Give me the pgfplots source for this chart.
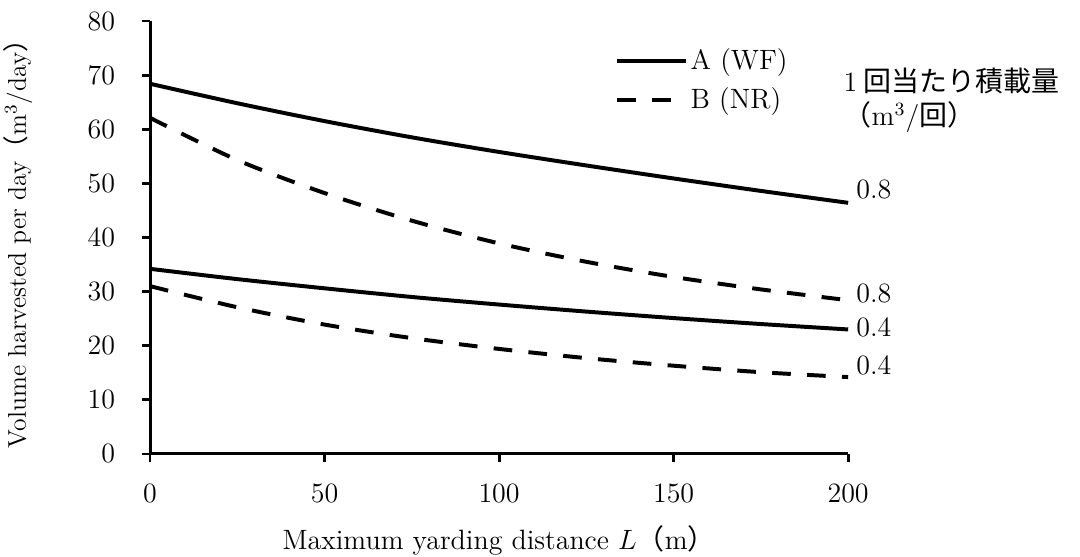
\documentclass[border=0pt]{standalone}
\usepackage{fontspec}
\usepackage{pgfplots}
\pgfplotsset{compat=1.18}
\newfontfamily\cjk{Noto Sans CJK JP}
\pgfplotstableread{
x A08 B08 A04 B04
0   68.4 62.1 34.2 31.0
25  64.8 54.3 32.3 27.1
50  61.5 48.2 30.6 23.9
75  58.5 43.1 29.0 21.4
100 55.8 38.9 27.6 19.4
125 53.3 35.5 26.3 17.7
150 50.9 32.7 25.1 16.3
175 48.6 30.4 24.0 15.1
200 46.4 28.4 23.0 14.2
}\datatable
\begin{document}
\begin{tikzpicture}
\path[use as bounding box] (0,0) rectangle (463.5pt,239pt);
\begin{axis}[
  at={(64.4pt,44.2pt)}, anchor=south west,
  scale only axis, width=299.6pt, height=185.8pt,
  xmin=0, xmax=200, ymin=0, ymax=80,
  axis lines*=left,
  xtick={0,50,...,200}, ytick={0,10,...,80},
  tick align=outside, major tick length=3.5pt,
  tick style={line width=1.2pt, black},
  axis line style={line width=1.3pt},
  ticklabel style={font=\fontsize{12.5}{14}\selectfont},
  yticklabel style={xshift=-8pt},
  xticklabel style={yshift=-6pt},
  xlabel={Maximum yarding distance $L${\cjk （}m{\cjk ）}},
  ylabel={Volume harvested per day{\cjk （}m\textsuperscript{3}/day{\cjk ）}},
  xlabel style={font=\fontsize{12}{14}\selectfont, at={(axis description cs:0.5,-0.2)}, anchor=center},
  ylabel style={font=\fontsize{11}{13}\selectfont, at={(axis description cs:-0.189,0.5)}, anchor=center},
  clip=false,
  legend cell align=left,
  legend style={at={(rel axis cs:0.666,0.942)}, anchor=north west, draw=none, fill=none,
    inner sep=0pt, row sep=4pt, font=\fontsize{12}{14}\selectfont,
    nodes={inner sep=1pt}},
  legend image code/.code={\draw[#1] (0pt,0pt) -- (29.6pt,0pt);},
]
\addplot[black, line width=1.7pt, smooth] table[x=x,y=A08] {\datatable};
\addlegendentry{A (WF)}
\addplot[black, line width=1.7pt, smooth, dash pattern=on 8pt off 7pt] table[x=x,y=B08] {\datatable};
\addlegendentry{B (NR)}
\addplot[black, line width=1.7pt, smooth, forget plot] table[x=x,y=A04] {\datatable};
\addplot[black, line width=1.7pt, smooth, dash pattern=on 8pt off 7pt, forget plot] table[x=x,y=B04] {\datatable};
\node[anchor=west, font=\fontsize{12}{14}\selectfont] at (axis cs:200,48.8) {0.8};
\node[anchor=west, font=\fontsize{12}{14}\selectfont] at (axis cs:200,29.6) {0.8};
\node[anchor=west, font=\fontsize{12}{14}\selectfont] at (axis cs:200,23.3) {0.4};
\node[anchor=west, font=\fontsize{12}{14}\selectfont] at (axis cs:200,16.3) {0.4};
\node[anchor=base west, font=\fontsize{12}{14}\selectfont, inner sep=0pt] at (rel axis cs:0.993,0.838) {1\hspace{2.5pt}{\cjk 回当たり積載量}};
\node[anchor=base west, font=\fontsize{12}{14}\selectfont, inner sep=0pt] at (rel axis cs:0.993,0.7575) {{\cjk （}m\textsuperscript{3}/{\cjk 回）}};
\end{axis}
\end{tikzpicture}
\end{document}
